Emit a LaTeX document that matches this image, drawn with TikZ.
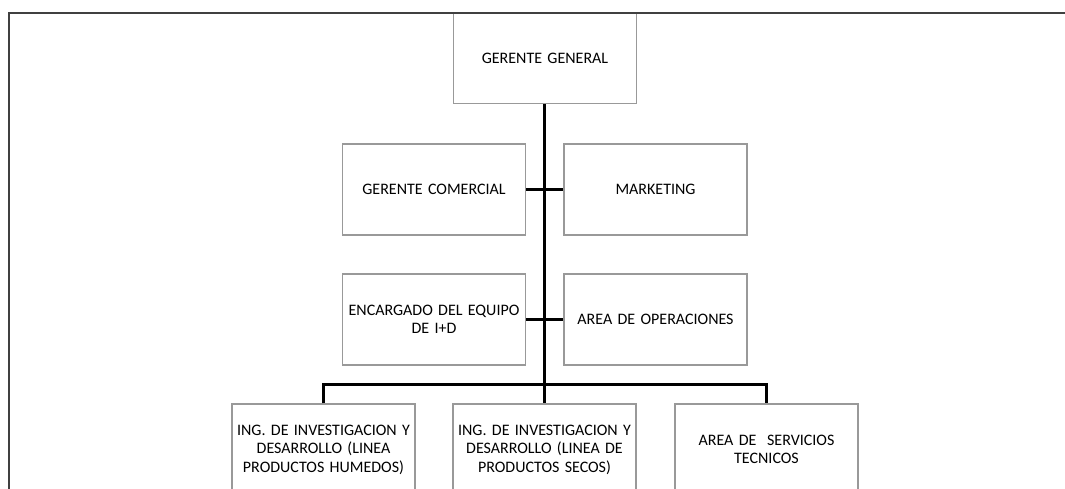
\documentclass[tikz,border=0pt]{standalone}
\usepackage{fontspec}
\setmainfont{Carlito}
\begin{document}
\begin{tikzpicture}[x=1pt,y=-1pt,
  unit/.style={draw=black!40, line width=1.4pt, fill=white, minimum width=183pt,
    minimum height=91pt, inner sep=0pt, align=center, text width=178pt,
    font=\fontsize{16}{18.5}\selectfont},
  link/.style={line width=3pt, black},
  frame/.style={line width=2pt, black!75}]
\useasboundingbox (0,0) rectangle (1065,489);
\clip (0,0) rectangle (1065,489);
% boxes
\node[unit] (gg) at (545,58) {GERENTE GENERAL};
\node[unit] (gc) at (434,189.5) {GERENTE COMERCIAL};
\node[unit] (mk) at (655.5,189.5) {MARKETING};
\node[unit] (id) at (434,319.5) {ENCARGADO DEL EQUIPO\\DE I+D};
\node[unit] (op) at (655.5,319.5) {AREA DE OPERACIONES};
\node[unit] (ph) at (323.5,449.5) {ING. DE INVESTIGACION Y\\DESARROLLO (LINEA\\PRODUCTOS HUMEDOS)};
\node[unit] (ps) at (544.5,449.5) {ING. DE INVESTIGACION Y\\DESARROLLO (LINEA DE\\PRODUCTOS SECOS)};
\node[unit] (st) at (766.5,449.5) {AREA DE~ SERVICIOS\\TECNICOS};
% connectors
\coordinate (bus) at (544.5,384);
\draw[link] (gg.south -| bus) -- (bus);
\draw[link] (gc.east) -- (mk.west);
\draw[link] (id.east) -- (op.west);
\draw[link] (ph.north) |- (bus) -| (st.north);
\draw[link] (bus) -- (ps.north);
% page frame, drawn over the top box
\coordinate (ftl) at (9,13);
\coordinate (ftr) at (1066,13);
\coordinate (fbl) at (9,490);
\draw[frame] (ftr) -- (ftl) -- (fbl);
\end{tikzpicture}
\end{document}
